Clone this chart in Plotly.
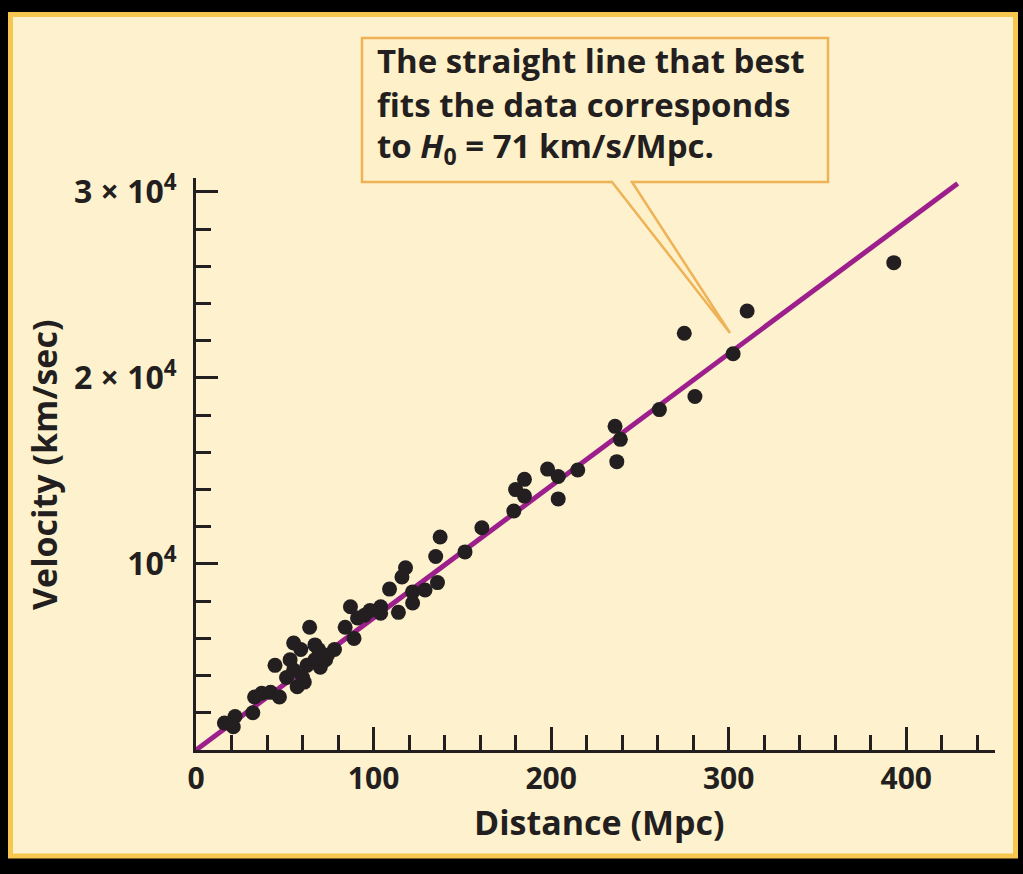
import plotly.graph_objects as go

# ---------------- data ----------------
distance_mpc = [393, 310.4, 275, 302.5, 281, 261, 236, 239, 237, 215, 198, 204, 204,
                185, 180, 185, 179, 161, 151.5, 137.5, 135, 136, 118, 116, 109, 122,
                129, 122, 114, 104, 104, 98, 95, 91, 87, 84, 89, 78, 69, 73, 70, 64,
                55, 59, 67, 44.5, 53, 55, 51, 60, 57, 61, 67, 33, 37, 42, 47, 32, 22,
                16, 21, 74, 62.5]
velocity_kms = [26200, 23600, 22400, 21300, 19000, 18300, 17400, 16700, 15500, 15050,
                15100, 14700, 13500, 14550, 14000, 13650, 12850, 11950, 10650, 11450,
                10400, 9000, 9800, 9300, 8650, 8500, 8600, 7900, 7400, 7700, 7350, 7500,
                7250, 7100, 7700, 6600, 6000, 5400, 5400, 4850, 4450, 6600, 5750, 5400,
                5650, 4550, 4850, 4300, 3900, 3900, 3400, 3650, 4850, 2850, 3050, 3100,
                2850, 2000, 1800, 1450, 1250, 5100, 4550]

H0 = 71                      # km/s/Mpc
fit_x = [0, 429]
fit_y = [H0 * d for d in fit_x]

x_tick_vals = [0, 100, 200, 300, 400]
x_tick_text = ["0", "100", "200", "300", "400"]
y_tick_vals = [10000, 20000, 30000]
y_tick_text = ["10<sup>4</sup>", "2 × 10<sup>4</sup>", "3 × 10<sup>4</sup>"]

# ---------------- layout helpers ----------------
W, H = 1023, 874
L, R, T, B = 196, 995, 178, 750   # plot area in pixels


def px(x):
    return (x - L) / (R - L)


def py(y):
    return (B - y) / (B - T)


INK = "#231F20"
CREAM = "#FDF2CD"
GOLD = "#F6C64E"
BOXLINE = "#EFB257"
FONT = "Open Sans"

fig = go.Figure()
fig.add_trace(go.Scatter(x=fit_x, y=fit_y, mode="lines",
                         line=dict(color="#9C1F8C", width=5), hoverinfo="skip",
                         showlegend=False))
fig.add_trace(go.Scatter(x=distance_mpc, y=velocity_kms, mode="markers",
                         marker=dict(color=INK, size=15, line=dict(width=0)),
                         showlegend=False))

shapes = []
# outer cream panel with gold border
shapes.append(dict(type="rect", xref="paper", yref="paper", layer="below",
                   x0=px(10.5), x1=px(1015.5), y0=py(856), y1=py(14.5),
                   fillcolor=CREAM, line=dict(color=GOLD, width=5)))
# callout box with pointer
pts = [(362, 38), (828, 38), (828, 182), (632, 182), (730, 333), (612, 182), (362, 182)]
path = "M " + " L ".join(f"{px(a):.5f},{py(b):.5f}" for a, b in pts) + " Z"
shapes.append(dict(type="path", xref="paper", yref="paper", path=path,
                   fillcolor="#FEF0C9", line=dict(color=BOXLINE, width=2.5), layer="above"))

annots = []
lines = ["The straight line that best",
         "fits the data corresponds",
         "to <i>H</i><sub>0</sub> = 71 km/s/Mpc."]
centers = [61, 104, 148]
for txt, yc in zip(lines, centers):
    annots.append(dict(xref="paper", yref="paper", x=px(375), y=py(yc),
                       xanchor="left", yanchor="middle", text=txt, showarrow=False,
                       align="left", font=dict(family=FONT, size=33, color=INK, weight="bold")))

# axis titles as annotations for exact placement
annots.append(dict(xref="paper", yref="paper", x=px(599), y=py(822), text="Distance (Mpc)",
                   showarrow=False, xanchor="center", yanchor="middle",
                   font=dict(family=FONT, size=34, color=INK, weight="bold")))
annots.append(dict(xref="paper", yref="paper", x=px(44), y=py(465), text="Velocity (km/sec)",
                   showarrow=False, xanchor="center", yanchor="middle", textangle=-90,
                   font=dict(family=FONT, size=34, color=INK, weight="bold")))

fig.update_layout(
    width=W, height=H,
    margin=dict(l=L, r=W - R, t=T, b=H - B, pad=0),
    paper_bgcolor="black",
    plot_bgcolor="rgba(0,0,0,0)",
    shapes=shapes,
    annotations=annots,
    showlegend=False,
)

fig.update_xaxes(range=[0, 450], showgrid=False, zeroline=False,
                 showline=True, linecolor=INK, linewidth=3,
                 tickmode="array", tickvals=x_tick_vals, ticktext=x_tick_text,
                 ticks="inside", ticklen=23, tickwidth=3, tickcolor=INK,
                 minor=dict(dtick=20, ticks="inside", ticklen=15, tickwidth=3, tickcolor=INK,
                            showgrid=False),
                 ticklabelstandoff=0,
                 tickfont=dict(family=FONT, size=30, color=INK, weight="bold"))
fig.update_yaxes(range=[0, 30750], showgrid=False, zeroline=False,
                 showline=True, linecolor=INK, linewidth=3,
                 tickmode="array", tickvals=y_tick_vals, ticktext=y_tick_text,
                 ticks="inside", ticklen=22, tickwidth=3, tickcolor=INK,
                 minor=dict(dtick=2000, ticks="inside", ticklen=15, tickwidth=3, tickcolor=INK,
                            showgrid=False),
                 ticklabelstandoff=10,
                 tickfont=dict(family=FONT, size=32, color=INK, weight="bold"))

fig.write_html("out.html", config={"displayModeBar": False},
               post_script="document.body.style.margin='0';document.body.style.overflow='hidden';")
